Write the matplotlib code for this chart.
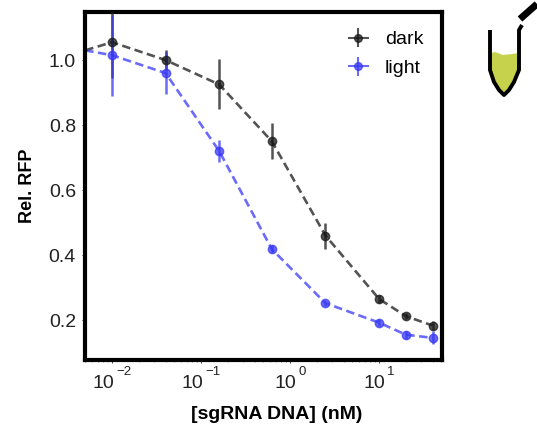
import matplotlib
matplotlib.use('Agg')
import matplotlib.pyplot as plt
from matplotlib.patches import Polygon
from matplotlib.transforms import ScaledTranslation

plt.rcParams['font.family'] = ['Liberation Sans', 'DejaVu Sans']

# sgRNA concentrations (nM)
conc = [0.01, 0.04, 0.16, 0.625, 2.5, 10, 20, 40]
dark = [1.055, 1.0, 0.925, 0.75, 0.46, 0.265, 0.212, 0.183]
dark_err = [0.11, 0.03, 0.077, 0.055, 0.04, 0.012, 0.01, 0.015]
light = [1.015, 0.96, 0.72, 0.418, 0.252, 0.192, 0.155, 0.145]
light_err = [0.125, 0.065, 0.035, 0.012, 0.008, 0.01, 0.012, 0.02]

# dashed lines run off the left edge from a zero-ish control
ctrl_x = 0.005
ctrl_y = 1.03

x_ticks = [0.01, 0.1, 1, 10]
x_exps = ['\u22122', '\u22121', '0', '1']
y_ticks = [0.2, 0.4, 0.6, 0.8, 1.0]
y_labels = ['0.2', '0.4', '0.6', '0.8', '1.0']

DARK = '#1a1a1a'
LIGHT = '#3a3af5'

fig = plt.figure(figsize=(5.37, 4.32), dpi=100)
ax = fig.add_axes([85 / 537, 1 - 360 / 432, 357 / 537, 348 / 432])

handles = []
for vals, errs, color, name in [(dark, dark_err, DARK, 'dark'),
                                (light, light_err, LIGHT, 'light')]:
    ax.plot([ctrl_x] + conc, [ctrl_y] + vals, color=color, lw=1.9,
            alpha=0.75, zorder=2, dashes=(3.2, 1.7))
    ax.errorbar(conc, vals, yerr=errs, color=color, fmt='o', ms=6, lw=1.8,
                alpha=0.75, zorder=3)
    # proxy with a solid line so the legend shows the cross shaped key
    handles.append(ax.errorbar([], [], yerr=[], color=color, fmt='o-', ms=5.5,
                               lw=1.5, alpha=0.75, label=name))

ax.set_xscale('log')
ax.set_xlim(0.00497, 51)
ax.set_ylim(0.077, 1.148)
ax.set_xticks(x_ticks)
ax.set_xticklabels(['10'] * len(x_ticks), ha='right')
ax.set_yticks(y_ticks)
ax.set_yticklabels(y_labels)
ax.tick_params(axis='both', which='major', labelsize=14, length=2.5, width=0.7,
               pad=4, color='#444444', labelcolor='#222222')
ax.tick_params(axis='x', which='major', pad=8)
ax.tick_params(axis='x', which='minor', length=1.5, width=0.5, color='#666666')
for s in ax.spines.values():
    s.set_linewidth(3)

# base and exponent are separate texts so the exponent can sit high like the original
for tick, label, exp in zip(x_ticks, ax.get_xticklabels(), x_exps):
    shift = 4.5 if len(exp) == 1 else 1.5
    label.set_transform(label.get_transform() + ScaledTranslation(shift / 72, 0, fig.dpi_scale_trans))
    ax.annotate(exp, xy=(tick, 0), xycoords=('data', 'axes fraction'),
                xytext=(shift + 1.5, -8.6), textcoords='offset points',
                ha='left', va='center', fontsize=9.5, color='#222222')

ax.set_xlabel('[sgRNA DNA] (nM)', fontsize=14, fontweight='bold')
ax.xaxis.set_label_coords((277 - 85) / 357, -0.132)
ax.set_ylabel('Rel. RFP', fontsize=13, fontweight='bold')
ax.yaxis.set_label_coords(-0.137, 0.5)

ax.legend(handles=handles, loc='upper left', frameon=False, fontsize=14,
          bbox_to_anchor=(0.74, 0.946), borderaxespad=0, borderpad=0,
          labelspacing=0.58, handlelength=0.95, handletextpad=0.88)

# tube icon, in pixel coordinates of the figure
icon = fig.add_axes([0, 0, 1, 1], zorder=5)
icon.set_xlim(0, 537)
icon.set_ylim(432, 0)
icon.axis('off')
liquid_x = [491, 495, 503, 512, 519, 519, 514, 509, 504, 499, 494, 490]
liquid_y = [53, 52, 55, 54, 53, 70, 82, 90, 95, 90, 82, 70]
icon.add_patch(Polygon(list(zip(liquid_x, liquid_y)), closed=True, fc='#c6d24c', ec='none'))
tube_x = [490, 490, 494, 499, 504, 509, 514, 519, 519, 522]
tube_y = [30, 70, 82, 90, 95, 90, 82, 70, 30, 25]
icon.plot(tube_x, tube_y, color='k', lw=2.8, solid_capstyle='butt')
icon.plot([520, 537], [19, 4], color='k', lw=5, solid_capstyle='butt')

fig.savefig('out.png', dpi=100)
